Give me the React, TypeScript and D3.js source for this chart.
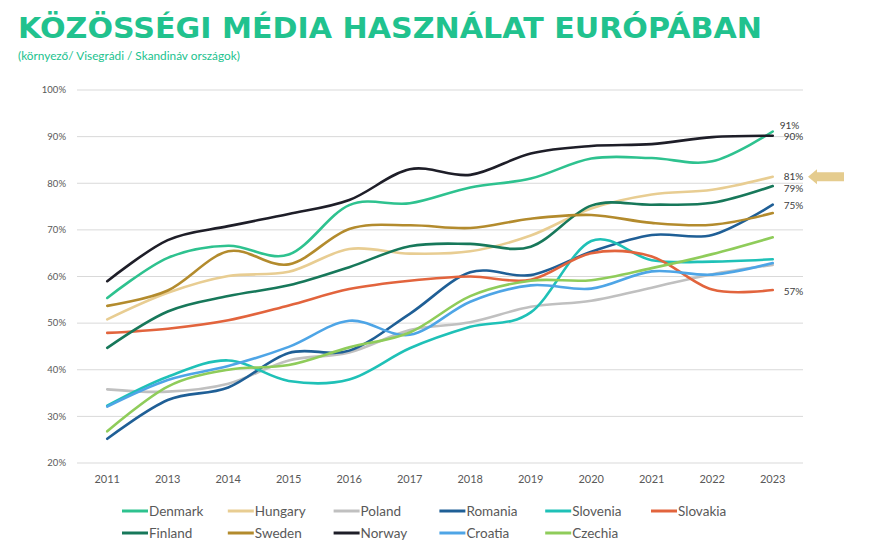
import React from 'react';
import * as d3 from 'd3';

const years = ['2011', '2013', '2014', '2015', '2016', '2017', '2018', '2019', '2020', '2021', '2022', '2023'];
const yTicks = [20, 30, 40, 50, 60, 70, 80, 90, 100];

const denmark = [55.4, 64.0, 66.6, 64.7, 75.3, 75.7, 79.1, 81.0, 85.3, 85.4, 84.7, 91.1];
const hungary = [50.8, 56.5, 60.1, 61.0, 65.9, 64.9, 65.4, 68.8, 74.6, 77.6, 78.6, 81.4];
const poland = [35.8, 35.3, 37.0, 42.0, 43.7, 48.5, 50.2, 53.5, 54.8, 57.6, 60.5, 62.5];
const romania = [25.2, 33.5, 36.2, 43.6, 44.1, 52.0, 60.9, 60.3, 65.3, 68.9, 68.9, 75.4];
const slovenia = [32.3, 38.5, 42.0, 37.6, 37.9, 44.6, 49.2, 52.3, 67.6, 63.5, 63.2, 63.7];
const slovakia = [47.9, 48.8, 50.6, 53.8, 57.3, 59.1, 60.0, 59.3, 65.0, 64.3, 57.2, 57.1];
const finland = [44.7, 52.5, 55.8, 58.1, 62.0, 66.5, 67.0, 66.4, 75.2, 75.4, 75.8, 79.4];
const sweden = [53.7, 57.0, 65.4, 62.6, 70.2, 71.0, 70.4, 72.4, 73.2, 71.5, 71.1, 73.6];
const norway = [59.0, 67.8, 70.8, 73.4, 76.4, 83.0, 81.8, 86.4, 88.0, 88.4, 89.9, 90.2];
const croatia = [32.1, 37.8, 40.8, 44.9, 50.5, 47.5, 54.6, 58.1, 57.4, 61.1, 60.4, 62.9];
const czechia = [26.8, 36.4, 40.0, 41.0, 44.8, 48.0, 55.8, 59.1, 59.2, 61.8, 64.8, 68.4];

const seriesNames = ['Denmark', 'Hungary', 'Poland', 'Romania', 'Slovenia', 'Slovakia', 'Finland', 'Sweden', 'Norway', 'Croatia', 'Czechia'];
const seriesValues = [denmark, hungary, poland, romania, slovenia, slovakia, finland, sweden, norway, croatia, czechia];
const seriesColors = ['#2ec28f', '#e8cd92', '#c0c0c0', '#1f5f96', '#1fc1b7', '#e2643d', '#17785a', '#b38b2d', '#1e1e28', '#4ea5e6', '#8fcc5a'];

// end-of-line labels: series index, text, nudge
const endLabels = [
  { s: 0, text: '91%', dx: 7, dy: -6 },
  { s: 8, text: '90%', dx: 11, dy: 1 },
  { s: 1, text: '81%', dx: 11, dy: 0 },
  { s: 6, text: '79%', dx: 11, dy: 2 },
  { s: 3, text: '75%', dx: 11, dy: 1 },
  { s: 5, text: '57%', dx: 11, dy: 1 },
];

const W = 875;
const H = 550;

export default function App() {
  const x = d3.scalePoint<string>().domain(years).range([77, 803]).padding(0.5);
  const y = d3.scaleLinear().domain([20, 100]).range([463, 90]);
  const line = d3
    .line<number>()
    .x((_, i) => x(years[i]) as number)
    .y((d) => y(d))
    .curve(d3.curveCatmullRom.alpha(0));

  const lastX = x(years[years.length - 1]) as number;
  const arrowY = y(hungary[hungary.length - 1]);
  const ax = 808;
  const arrowPts = [
    [ax, arrowY],
    [ax + 9, arrowY - 7.5],
    [ax + 9, arrowY - 4.5],
    [ax + 36, arrowY - 4.5],
    [ax + 36, arrowY + 4.5],
    [ax + 9, arrowY + 4.5],
    [ax + 9, arrowY + 7.5],
  ]
    .map((p) => p.join(','))
    .join(' ');

  const legendX0 = 122;
  const legendStep = 105.8;
  const legendY = [511, 533];

  return (
    <svg
      width={W}
      height={H}
      style={{ position: 'absolute', left: 0, top: 0, background: '#fff' }}
      fontFamily="Lato, 'Open Sans', sans-serif"
    >
      <text
        x={18}
        y={37.5}
        fontFamily="'DejaVu Sans', Verdana, sans-serif"
        fontWeight="bold"
        fontSize={29}
        fill="#21c28e"
        textLength={744}
        lengthAdjust="spacingAndGlyphs"
      >
        KÖZÖSSÉGI MÉDIA HASZNÁLAT EURÓPÁBAN
      </text>
      <text x={18} y={60} fontSize={11.8} fill="#21c28e">
        (környező/ Visegrádi / Skandináv országok)
      </text>

      {yTicks.map((t) => (
        <g key={t}>
          <line x1={77} x2={803} y1={y(t)} y2={y(t)} stroke="#d9d9d9" strokeWidth={1} />
          <text x={66} y={y(t)} dy="0.35em" textAnchor="end" fontSize={9.5} fill="#595959">
            {t}%
          </text>
        </g>
      ))}

      {years.map((yr) => (
        <text key={yr} x={x(yr) as number} y={483} textAnchor="middle" fontSize={11} fill="#595959">
          {yr}
        </text>
      ))}

      {seriesValues.map((vals, i) => (
        <path
          key={seriesNames[i]}
          d={line(vals) as string}
          fill="none"
          stroke={seriesColors[i]}
          strokeWidth={2.6}
          strokeLinecap="round"
          strokeLinejoin="round"
        />
      ))}

      {endLabels.map((l) => {
        const vals = seriesValues[l.s];
        return (
          <text
            key={l.text}
            x={lastX + l.dx}
            y={y(vals[vals.length - 1]) + l.dy}
            dy="0.35em"
            fontSize={10}
            fill="#404040"
          >
            {l.text}
          </text>
        );
      })}

      <polygon points={arrowPts} fill="#e5cc8e" />

      {seriesNames.map((name, i) => {
        const col = i % 6;
        const row = Math.floor(i / 6);
        const lx = legendX0 + col * legendStep;
        const ly = legendY[row];
        return (
          <g key={name}>
            <line x1={lx} x2={lx + 26} y1={ly} y2={ly} stroke={seriesColors[i]} strokeWidth={3} />
            <text x={lx + 27} y={ly} dy="0.35em" fontSize={13.5} fill="#595959">
              {name}
            </text>
          </g>
        );
      })}
    </svg>
  );
}
